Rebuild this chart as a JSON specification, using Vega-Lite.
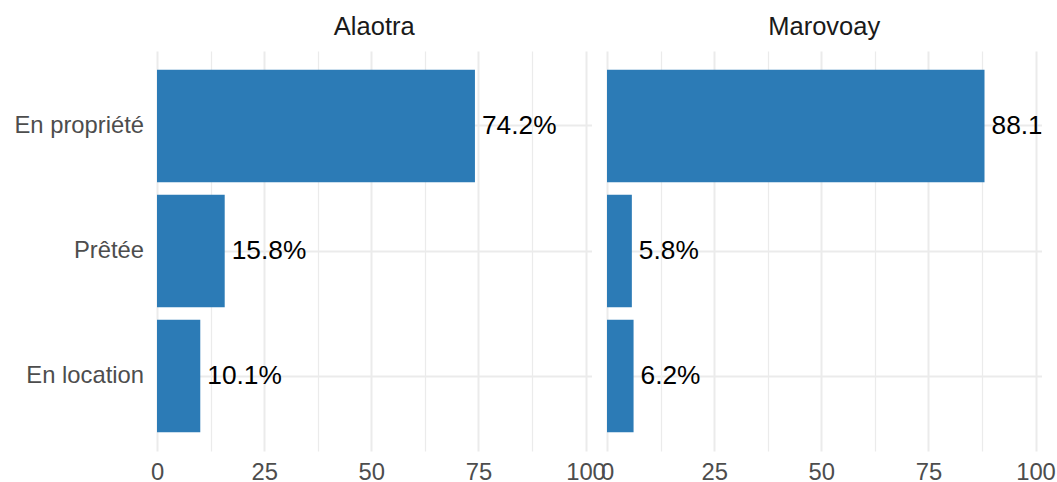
{
  "$schema": "https://vega.github.io/schema/vega-lite/v6.json",
  "background": "white",
  "autosize": {"type": "pad"},
  "padding": {"left": 13, "top": 14, "right": 0, "bottom": 0},
  "config": {
    "view": {"stroke": null},
    "font": "Liberation Sans"
  },
  "data": {
    "values": [
      {"region": "Alaotra", "tenure": "En propriété", "pct": 74.2, "label": "74.2%"},
      {"region": "Alaotra", "tenure": "Prêtée", "pct": 15.8, "label": "15.8%"},
      {"region": "Alaotra", "tenure": "En location", "pct": 10.1, "label": "10.1%"},
      {"region": "Marovoay", "tenure": "En propriété", "pct": 88.1, "label": "88.1%"},
      {"region": "Marovoay", "tenure": "Prêtée", "pct": 5.8, "label": "5.8%"},
      {"region": "Marovoay", "tenure": "En location", "pct": 6.2, "label": "6.2%"}
    ]
  },
  "facet": {
    "column": {
      "field": "region",
      "type": "nominal",
      "sort": ["Alaotra", "Marovoay"],
      "header": {
        "title": null,
        "labelFont": "Liberation Sans",
        "labelFontSize": 25.5,
        "labelColor": "#1A1A1A",
        "labelBaseline": "alphabetic",
        "labelPadding": -9
      }
    }
  },
  "spacing": 15,
  "spec": {
    "width": 434.5,
    "height": 400,
    "encoding": {
      "y": {
        "field": "tenure",
        "type": "nominal",
        "sort": ["En propriété", "Prêtée", "En location"],
        "scale": {"paddingInner": 0.1, "paddingOuter": 0.15},
        "axis": {
          "title": null,
          "domain": false,
          "ticks": false,
          "labelFont": "Liberation Sans",
          "labelFontSize": 23.8,
          "labelColor": "#4D4D4D",
          "labelPadding": 13.4,
          "grid": true,
          "gridColor": "#EBEBEB",
          "gridWidth": 2,
          "bandPosition": 0.5
        }
      },
      "x": {
        "field": "pct",
        "type": "quantitative",
        "scale": {"domain": [0, 101.4], "nice": false, "zero": true},
        "axis": {
          "title": null,
          "domain": false,
          "ticks": false,
          "values": [0, 12.5, 25, 37.5, 50, 62.5, 75, 87.5, 100],
          "labelExpr": "datum.value % 25 === 0 ? datum.label : ''",
          "labelFont": "Liberation Sans",
          "labelFontSize": 23.8,
          "labelColor": "#4D4D4D",
          "labelPadding": 9.5,
          "labelFlush": false,
          "labelOverlap": false,
          "grid": true,
          "gridColor": "#EBEBEB",
          "gridWidth": {"condition": {"test": "datum.value % 25 === 0", "value": 2}, "value": 1.2}
        }
      }
    },
    "layer": [
      {
        "mark": {"type": "bar", "color": "#2C7BB6"}
      },
      {
        "mark": {
          "type": "text",
          "align": "left",
          "baseline": "middle",
          "dx": 7,
          "font": "Liberation Sans",
          "fontSize": 26.3,
          "color": "black",
          "clip": true
        },
        "encoding": {"text": {"field": "label"}}
      }
    ]
  }
}
